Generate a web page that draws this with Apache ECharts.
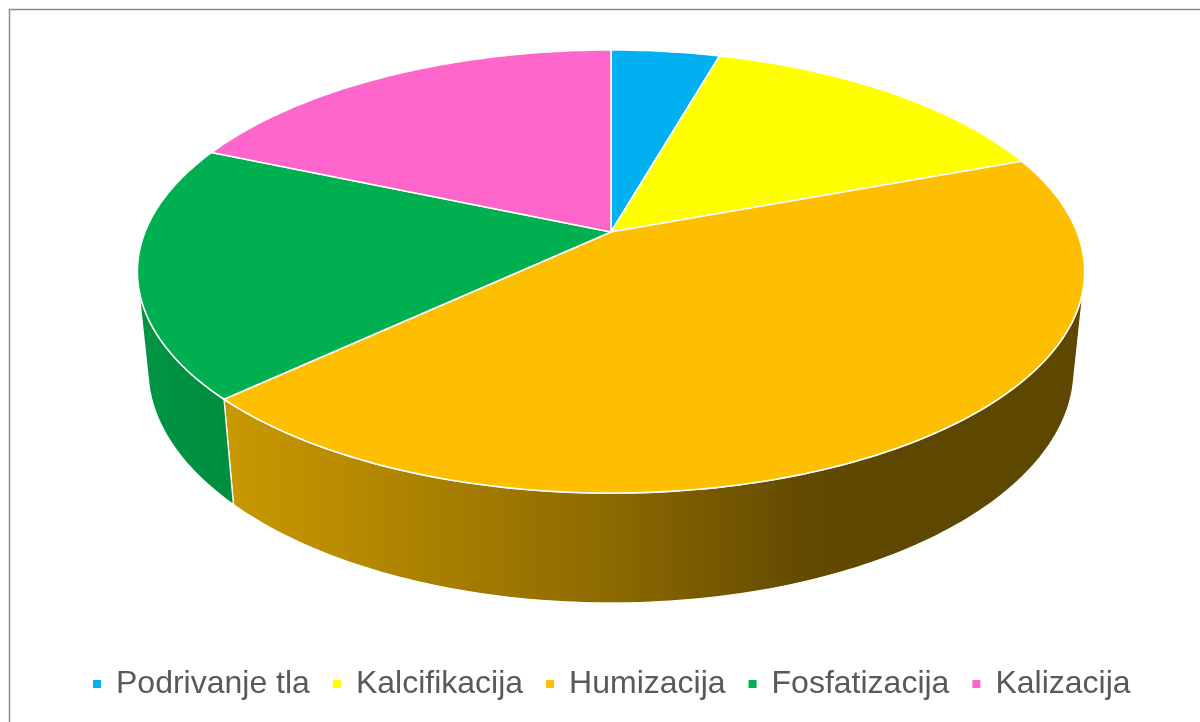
<!DOCTYPE html>
<html>
<head>
<meta charset="utf-8">
<title>Procesi u tlu</title>
<script src="https://cdn.jsdelivr.net/npm/echarts@6/dist/echarts.min.js"></script>
<style>
  html, body { margin: 0; padding: 0; background: #ffffff; }
  #chart { width: 1200px; height: 722px; }
</style>
</head>
<body>
<div id="chart"></div>
<script>
// Categories and their shares (%)
const categories = ['Podrivanje tla', 'Kalcifikacija', 'Humizacija', 'Fosfatizacija', 'Kalizacija'];
const values = [4.4, 14.9, 43.7, 18.5, 18.5];
const colors = ['#00B0F0', '#FFFF00', '#FDBF00', '#00B050', '#FF66CC'];

// Perspective camera for the 3D pie (unit-radius disc, thickness T)
const CX = 611, CY = 232;          // screen position of the disc centre
const F = 2318;                    // focal length in px
const DIST = 4.974;                // camera distance in radii
const PHI = Math.asin(0.4603);     // camera elevation
const T = 0.238;                   // disc thickness in radii
const cosP = Math.cos(PHI), sinP = Math.sin(PHI);
// outer wall faces the camera where cos(theta) < -1/(DIST*cos(phi))
const WALL_LIM = Math.acos(-1 / (DIST * cosP)) * 180 / Math.PI;

// theta in degrees, clockwise from the far side; z = 0 top, 1 bottom
function proj(r, th, z) {
  const a = th * Math.PI / 180;
  const x = r * Math.sin(a), y = r * Math.cos(a), zz = -z * T;
  const depth = y * cosP - zz * sinP + DIST;
  const up = y * sinP + zz * cosP;
  return [CX + F * x / depth, CY - F * up / depth];
}

function shade(hex, k) {
  const n = parseInt(hex.slice(1), 16);
  const r = Math.round(((n >> 16) & 255) * k);
  const g = Math.round(((n >> 8) & 255) * k);
  const b = Math.round((n & 255) * k);
  return 'rgb(' + r + ',' + g + ',' + b + ')';
}

// light falls from the left: wall brightness along the screen width
const wallLight = [[0, 0.86], [0.10, 0.80], [0.28, 0.69], [0.49, 0.56], [0.70, 0.39], [0.80, 0.37], [1, 0.37]];

const total = values.reduce((s, v) => s + v, 0);
let acc = 0;
const slices = values.map(v => {
  const s = acc / total * 360;
  acc += v;
  return [s, acc / total * 360];
});

function renderSlice(params, api) {
  const s = api.value(0), e = api.value(1);
  const color = api.visual('color');
  const children = [];
  // outer wall (front part only)
  const wStart = Math.max(s, WALL_LIM), wEnd = Math.min(e, 360 - WALL_LIM);
  if (wEnd > wStart) {
    const pts = [];
    const n = Math.max(2, Math.ceil(wEnd - wStart));
    for (let i = 0; i <= n; i++) pts.push(proj(1, wStart + (wEnd - wStart) * i / n, 0));
    for (let i = n; i >= 0; i--) pts.push(proj(1, wStart + (wEnd - wStart) * i / n, 1));
    const left = proj(1, 360 - WALL_LIM, 0)[0] - 10, right = proj(1, WALL_LIM, 0)[0] + 10;
    children.push({
      type: 'polygon',
      z2: 1,
      shape: { points: pts },
      style: {
        fill: {
          type: 'linear', x: left, y: 0, x2: right, y2: 0, global: true,
          colorStops: wallLight.map(([o, k]) => ({ offset: o, color: shade(color, k) }))
        },
        stroke: '#ffffff', lineWidth: 1.3, lineJoin: 'round'
      }
    });
  }
  // top face
  const top = [proj(0, 0, 0)];
  const m = Math.max(2, Math.ceil(e - s));
  for (let i = 0; i <= m; i++) top.push(proj(1, s + (e - s) * i / m, 0));
  children.push({
    type: 'polygon',
    z2: 10,
    shape: { points: top },
    style: { fill: color, stroke: '#ffffff', lineWidth: 1.6, lineJoin: 'round' }
  });
  return { type: 'group', children: children };
}

const series = categories.map((name, i) => ({
  type: 'custom',
  name: name,
  coordinateSystem: 'none',
  renderItem: renderSlice,
  itemStyle: { color: colors[i] },
  data: [slices[i]],
  silent: true
}));

const chart = echarts.init(document.getElementById('chart'));
chart.setOption({
  animation: false,
  backgroundColor: '#ffffff',
  legend: {
    data: categories,
    left: 88,
    top: 663,
    icon: 'rect',
    itemWidth: 8,
    itemHeight: 8,
    itemGap: 23,
    textStyle: {
      fontFamily: 'Liberation Sans, Arial, sans-serif',
      fontSize: 32,
      color: '#595959',
      padding: [0, 0, 0, 10]
    }
  },
  graphic: [{
    type: 'rect',
    silent: true,
    shape: { x: 9.5, y: 9.5, width: 1200, height: 720 },
    style: { fill: null, stroke: '#8a8a8a', lineWidth: 1.5 }
  }],
  series: series
});
</script>
</body>
</html>
